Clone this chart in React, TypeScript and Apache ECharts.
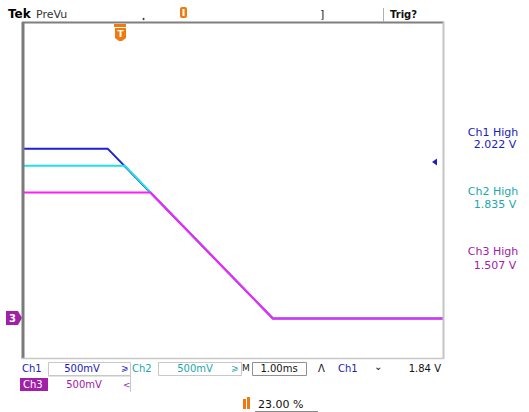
import React, { useEffect, useRef } from "react";
import * as echarts from "echarts";

// time in ms (trigger at 0, 23% of record), voltage in V
const ch1Times = [-2.3, -0.26, 3.66, 7.7];
const ch1Volts = [2.02, 2.02, 0, 0];
const ch2Times = [-2.3, 0.14, 3.66, 7.7];
const ch2Volts = [1.82, 1.82, 0, 0];
const ch3Times = [-2.3, 0.75, 3.66, 7.7];
const ch3Volts = [1.5, 1.5, 0, 0];

const measLabels = ["Ch1 High", "Ch2 High", "Ch3 High"];
const measValues = ["2.022 V", "1.835 V", "1.507 V"];
const chScale = ["500mV", "500mV", "500mV"];
const timeScale = "1.00ms";
const trigLevel = "1.84 V";
const trigPos = "23.00 %";

const C1 = "#1c22d4";
const C2 = "#1ee2ea";
const C3 = "#ff1cff";
const T1 = "#2020b8";
const T2 = "#1aa8a8";
const T3 = "#a020a8";
const OR = "#f07a10";
const FONT = "10px 'DejaVu Sans'";
const MFONT = "11px 'DejaVu Sans'";

const zip = (t: number[], v: number[]) => t.map((x, i) => [x, v[i]]);

export default function App() {
  const ref = useRef<HTMLDivElement>(null);
  useEffect(() => {
    document.body.style.margin = "0";
    const chart = echarts.init(ref.current!, null, { renderer: "svg" });
    const txt = (text: string, x: number, y: number, fill: string, extra: any = {}) => ({
      type: "text",
      x,
      y,
      z: 10,
      style: { text, fill, font: FONT, verticalAlign: "middle", textAlign: "left", ...extra },
    });
    const line = (x1: number, y1: number, x2: number, y2: number, stroke: string, w = 1) => ({
      type: "line",
      z: 5,
      shape: { x1, y1, x2, y2 },
      style: { stroke, lineWidth: w },
    });
    chart.setOption({
      animation: false,
      backgroundColor: "#ffffff",
      grid: { left: 22, top: 22, width: 421, height: 336 },
      xAxis: {
        type: "value",
        min: -2.3,
        max: 7.7,
        show: false,
      },
      yAxis: {
        type: "value",
        min: -0.47,
        max: 3.53,
        show: false,
      },
      series: [
        { type: "line", data: zip(ch1Times, ch1Volts), showSymbol: false, lineStyle: { color: C1, width: 2 }, z: 2 },
        { type: "line", data: zip(ch2Times, ch2Volts), showSymbol: false, lineStyle: { color: C2, width: 2 }, z: 3 },
        { type: "line", data: zip(ch3Times, ch3Volts), showSymbol: false, lineStyle: { color: C3, width: 2 }, z: 4 },
      ],
      graphic: [
        // frame
        line(23, 22, 23, 359, "#7a7a7a", 3),
        line(22, 22.5, 444, 22.5, "#7f7f7f", 2),
        line(443.5, 22, 443.5, 359, "#c4c4c4", 2),
        line(22, 358.5, 444, 358.5, "#c8c8c8", 1.5),
        // top bar
        txt("Tek", 8, 14, "#000", { font: "bold 12px 'DejaVu Sans'" }),
        txt("PreVu", 36, 14, "#333", { font: "11px 'DejaVu Sans'" }),
        { type: "circle", shape: { cx: 143.5, cy: 19, r: 1 }, style: { fill: "#333" } },
        txt("]", 320, 14, "#222", { font: "11px 'DejaVu Sans'" }),
        line(383.5, 8, 383.5, 22, "#b0b0b0", 1),
        txt("Trig?", 390, 14, "#111", { font: "bold 10px 'DejaVu Sans'" }),
        // horizontal position marker
        { type: "rect", shape: { x: 180, y: 7, width: 7, height: 11, r: 2 }, style: { fill: OR } },
        { type: "rect", shape: { x: 182.5, y: 9, width: 2, height: 7 }, style: { fill: "#fff" } },
        // trigger T marker
        { type: "rect", shape: { x: 114, y: 24, width: 12, height: 3 }, style: { fill: OR } },
        { type: "polygon", shape: { points: [[115, 28], [126, 28], [126, 38], [122, 41], [119, 41], [115, 38]] }, style: { fill: OR } },
        txt("T", 120.5, 34, "#fff", { font: "bold 9px 'DejaVu Sans'", textAlign: "center" }),
        // trigger level marker
        { type: "polygon", shape: { points: [[432, 162], [437, 158.5], [437, 165.5]] }, style: { fill: T1 } },
        // ground marker ch3
        { type: "polygon", shape: { points: [[6, 311], [18, 311], [22, 318], [18, 325], [6, 325]] }, style: { fill: T3 } },
        txt("3", 12.5, 318, "#fff", { font: "bold 10px 'DejaVu Sans'", textAlign: "center" }),
        // measurements
        txt(measLabels[0], 493, 132, T1, { textAlign: "center", font: MFONT }),
        txt(measValues[0], 495, 144, T1, { textAlign: "center", font: MFONT }),
        txt(measLabels[1], 493, 191, T2, { textAlign: "center", font: MFONT }),
        txt(measValues[1], 495, 204, T2, { textAlign: "center", font: MFONT }),
        txt(measLabels[2], 493, 251, T3, { textAlign: "center", font: MFONT }),
        txt(measValues[2], 495, 265, T3, { textAlign: "center", font: MFONT }),
        // bottom row 1
        txt("Ch1", 22, 368, T1),
        { type: "rect", shape: { x: 48.5, y: 362.5, width: 82, height: 13 }, style: { fill: "none", stroke: "#c8c8c8", lineWidth: 1 } },
        txt(chScale[0], 82, 368, T1, { textAlign: "center" }),
        txt("⩾", 121, 368, T1, { font: "9px 'DejaVu Sans'" }),
        txt("Ch2", 132, 368, T2),
        { type: "rect", shape: { x: 158.5, y: 362.5, width: 83, height: 13 }, style: { fill: "none", stroke: "#c8c8c8", lineWidth: 1 } },
        txt(chScale[1], 195, 368, T2, { textAlign: "center" }),
        txt("⩾", 231, 368, T2, { font: "9px 'DejaVu Sans'" }),
        txt("M", 242, 368, "#222", { font: "9px 'DejaVu Sans'" }),
        { type: "rect", shape: { x: 252.5, y: 362.5, width: 54, height: 13 }, style: { fill: "none", stroke: "#909090", lineWidth: 1 } },
        txt(timeScale, 279, 368, "#111", { textAlign: "center" }),
        txt("Λ", 318, 368, "#111"),
        txt("Ch1", 338, 368, T1),
        txt("⌄", 374, 366, "#111"),
        txt(trigLevel, 441, 368, "#111", { textAlign: "right" }),
        // bottom row 2
        { type: "rect", shape: { x: 20, y: 378, width: 28, height: 13 }, style: { fill: T3 } },
        txt("Ch3", 23, 384.5, "#fff"),
        line(48, 376, 131, 376, "#c8c8c8", 1),
        line(130.5, 376, 130.5, 392, "#c8c8c8", 1),
        txt(chScale[2], 84, 384.5, T3, { textAlign: "center" }),
        txt("<", 123, 384.5, T3, { font: "9px 'DejaVu Sans'" }),
        // bottom row 3
        { type: "rect", shape: { x: 243, y: 399, width: 3, height: 10 }, style: { fill: OR } },
        { type: "rect", shape: { x: 247, y: 397, width: 3, height: 12 }, style: { fill: OR } },
        txt(trigPos, 258, 404, "#111", { font: "11px 'DejaVu Sans'" }),
        line(255, 411.5, 318, 411.5, "#888", 1),
      ],
    });
    return () => chart.dispose();
  }, []);
  return <div ref={ref} style={{ width: 529, height: 412, position: "absolute", left: 0, top: 0 }} />;
}
